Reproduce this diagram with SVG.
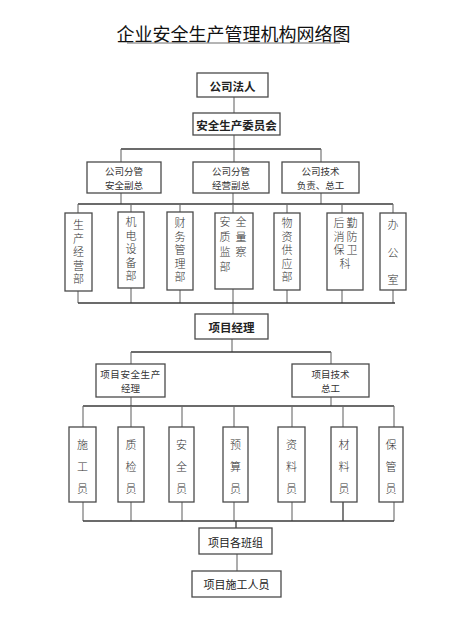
<svg xmlns="http://www.w3.org/2000/svg" width="450" height="625" viewBox="0 0 450 625">
<style>
.box{fill:#fff;stroke:#4a4a4a;stroke-width:1.3}
.ln{stroke:#3a3a3a;stroke-width:1.3;fill:none}
.vl{stroke:#6a6a6a;stroke-width:1.1;fill:none}
text{font-family:"Noto Sans CJK SC","Noto Sans",sans-serif;fill:#222;text-anchor:middle;dominant-baseline:central}
.b{font-size:11.5px;font-weight:bold}
.s{font-size:9.5px;fill:#333}
.v{font-size:11px;fill:#333;font-weight:300;writing-mode:vertical-rl;text-anchor:start;letter-spacing:2.5px}
.v3{letter-spacing:11px}
.v2{letter-spacing:4px}
.vw{letter-spacing:16.5px}
.m{font-size:11px;fill:#222}
.t{font-size:18px;fill:#111}
</style>
<rect width="450" height="625" fill="#fff"/>
<text class="t" x="233.5" y="33">企业安全生产管理机构网络图</text>
<line x1="127" y1="43" x2="340" y2="43" stroke="#444" stroke-width="0.8"/>

<g id="connectors">
<line class="vl" x1="234" y1="97" x2="234" y2="113"/>
<line class="vl" x1="234" y1="135" x2="234" y2="162"/>
<line class="ln" x1="121" y1="149" x2="321" y2="149"/>
<line class="vl" x1="121" y1="149" x2="121" y2="162"/>
<line class="vl" x1="321" y1="149" x2="321" y2="162"/>
<line class="vl" x1="121" y1="193" x2="121" y2="204"/>
<line class="vl" x1="233" y1="193" x2="233" y2="204"/>
<line class="vl" x1="321" y1="193" x2="321" y2="204"/>
<line class="ln" x1="78" y1="204" x2="393" y2="204"/>
<line class="vl" x1="78" y1="204" x2="78" y2="213"/>
<line class="vl" x1="131" y1="204" x2="131" y2="212"/>
<line class="vl" x1="180" y1="204" x2="180" y2="212"/>
<line class="vl" x1="233" y1="204" x2="233" y2="213"/>
<line class="vl" x1="287" y1="204" x2="287" y2="213"/>
<line class="vl" x1="342" y1="204" x2="342" y2="213"/>
<line class="vl" x1="393" y1="204" x2="393" y2="213"/>
<line class="vl" x1="78" y1="291" x2="78" y2="303"/>
<line class="vl" x1="131" y1="288" x2="131" y2="303"/>
<line class="vl" x1="180" y1="290" x2="180" y2="303"/>
<line class="vl" x1="233" y1="289" x2="233" y2="314"/>
<line class="vl" x1="287" y1="290" x2="287" y2="303"/>
<line class="vl" x1="342" y1="290" x2="342" y2="303"/>
<line class="vl" x1="393" y1="290" x2="393" y2="303"/>
<line class="ln" x1="78" y1="303" x2="395" y2="303"/>
<line class="vl" x1="232" y1="339" x2="232" y2="352"/>
<line class="ln" x1="131" y1="352" x2="331" y2="352"/>
<line class="vl" x1="131" y1="352" x2="131" y2="364"/>
<line class="vl" x1="331" y1="352" x2="331" y2="364"/>
<line class="vl" x1="131" y1="397" x2="131" y2="406"/>
<line class="vl" x1="331" y1="397" x2="331" y2="406"/>
<line class="ln" x1="83" y1="406" x2="394" y2="406"/>
<line class="vl" x1="83" y1="406" x2="83" y2="427"/>
<line class="vl" x1="131" y1="406" x2="131" y2="427"/>
<line class="vl" x1="182" y1="406" x2="182" y2="427"/>
<line class="vl" x1="234" y1="406" x2="234" y2="427"/>
<line class="vl" x1="292" y1="406" x2="292" y2="427"/>
<line class="vl" x1="343" y1="406" x2="343" y2="427"/>
<line class="vl" x1="394" y1="406" x2="394" y2="427"/>
<line class="vl" x1="83" y1="502" x2="83" y2="521"/>
<line class="vl" x1="131" y1="502" x2="131" y2="521"/>
<line class="vl" x1="182" y1="502" x2="182" y2="521"/>
<line class="vl" x1="234" y1="502" x2="234" y2="521"/>
<line class="vl" x1="292" y1="502" x2="292" y2="521"/>
<line class="ln" x1="343" y1="502" x2="343" y2="521"/>
<line class="vl" x1="394" y1="502" x2="394" y2="521"/>
<line class="ln" x1="83" y1="521" x2="394" y2="521"/>
<line class="ln" x1="236" y1="521" x2="236" y2="528"/>
<line class="vl" x1="237" y1="554" x2="237" y2="571"/>
</g>

<g id="n-faren"><rect class="box" x="197" y="73" width="71" height="24"/><text class="b" x="232.5" y="86">公司法人</text></g>
<g id="n-weiyuanhui"><rect class="box" x="193" y="113" width="87" height="22"/><text class="b" x="236.5" y="124.5">安全生产委员会</text></g>

<g id="n-anquanfuzong"><rect class="box" x="87" y="162" width="74" height="31"/><text class="s" x="124" y="170.5">公司分管</text><text class="s" x="124" y="184.5">安全副总</text></g>
<g id="n-jingyingfuzong"><rect class="box" x="193" y="162" width="76" height="31"/><text class="s" x="231" y="170.5">公司分管</text><text class="s" x="231" y="184.5">经营副总</text></g>
<g id="n-zonggong"><rect class="box" x="282" y="162" width="77" height="31"/><text class="s" x="320.5" y="170.5">公司技术</text><text class="s" x="320.5" y="184.5">负责、总工</text></g>

<g id="n-shengchan"><rect class="box" x="65" y="213" width="27" height="78"/><text class="v" x="78.5" y="219.5">生产经营部</text></g>
<g id="n-jidian"><rect class="box" x="118" y="212" width="26" height="76"/><text class="v" x="131" y="216.5">机电设备部</text></g>
<g id="n-caiwu"><rect class="box" x="167" y="212" width="26" height="78"/><text class="v" x="180" y="217.5">财务管理部</text></g>
<g id="n-anzhi"><rect class="box" x="215" y="213" width="38" height="76"/><text class="v v2" x="225" y="216.5">安质监部</text><text class="v v2" x="241" y="216.5">全量察</text></g>
<g id="n-wuzi"><rect class="box" x="274" y="213" width="26" height="77"/><text class="v" x="287" y="217.5">物资供应部</text></g>
<g id="n-houqin"><rect class="box" x="327" y="213" width="36" height="77"/><text class="v" x="339" y="217.5">后消保</text><text class="v" x="352" y="217.5">勤防卫</text><text class="v" x="345" y="258">科</text></g>
<g id="n-bangong"><rect class="box" x="380" y="213" width="26" height="77"/><text class="v vw" x="393" y="219.5">办公室</text></g>

<g id="n-xiangmujingli"><rect class="box" x="195" y="314" width="73" height="25"/><text class="b" x="231.5" y="326.5">项目经理</text></g>
<g id="n-anquanjingli"><rect class="box" x="96" y="364" width="69" height="33"/><text class="s" x="130.5" y="373.5" letter-spacing="0.6">项目安全生产</text><text class="s" x="130.5" y="388">经理</text></g>
<g id="n-xiangmuzonggong"><rect class="box" x="292" y="364" width="77" height="33"/><text class="s" x="330.5" y="373.5">项目技术</text><text class="s" x="330.5" y="388">总工</text></g>

<g id="n-shigongyuan"><rect class="box" x="69" y="427" width="27" height="75"/><text class="v v3" x="82.5" y="439.5">施工员</text></g>
<g id="n-zhijianyuan"><rect class="box" x="118" y="427" width="26" height="75"/><text class="v v3" x="131" y="439.5">质检员</text></g>
<g id="n-anquanyuan"><rect class="box" x="169" y="427" width="25" height="75"/><text class="v v3" x="181.5" y="439.5">安全员</text></g>
<g id="n-yusuanyuan"><rect class="box" x="223" y="427" width="25" height="75"/><text class="v v3" x="235.5" y="439.5">预算员</text></g>
<g id="n-ziliaoyuan"><rect class="box" x="278" y="427" width="27" height="75"/><text class="v v3" x="291.5" y="439.5">资料员</text></g>
<g id="n-cailiaoyuan"><rect class="box" x="331" y="427" width="26" height="75"/><text class="v v3" x="344" y="439.5">材料员</text></g>
<g id="n-baoguanyuan"><rect class="box" x="379" y="427" width="24" height="75"/><text class="v v3" x="391" y="439.5">保管员</text></g>

<g id="n-banzu"><rect class="box" x="199" y="528" width="73" height="26"/><text class="m" x="235.5" y="541.5">项目各班组</text></g>
<g id="n-renyuan"><rect class="box" x="192" y="571" width="89" height="26"/><text class="m" x="236.5" y="584">项目施工人员</text></g>
</svg>
